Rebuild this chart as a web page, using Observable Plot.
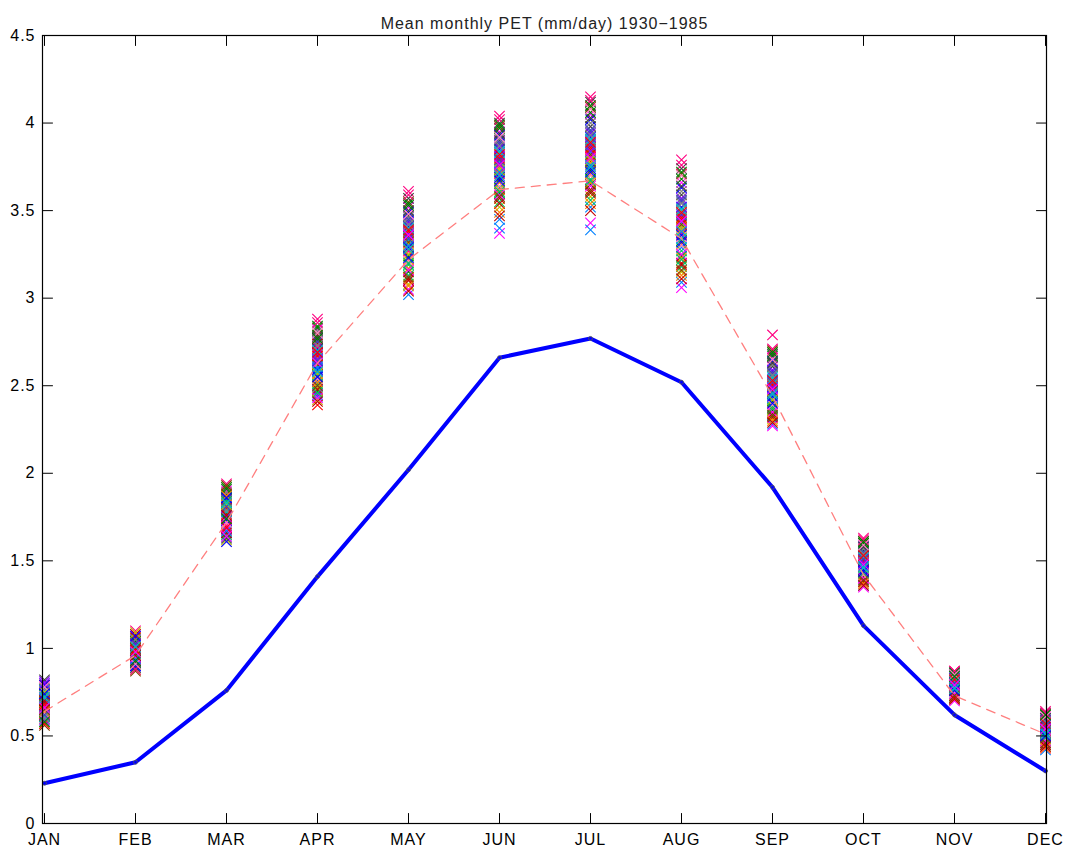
<!DOCTYPE html>
<html>
<head>
<meta charset="utf-8">
<script src="https://cdn.jsdelivr.net/npm/d3@7"></script>
<script src="https://cdn.jsdelivr.net/npm/@observablehq/plot@0.6"></script>
<style>
  html, body { margin: 0; padding: 0; background: #fff; }
</style>
</head>
<body>
<div id="chart"></div>
<script>
const title = "Mean monthly PET (mm/day) 1930\u22121985";
const months = ["JAN","FEB","MAR","APR","MAY","JUN","JUL","AUG","SEP","OCT","NOV","DEC"];
const yTicks = [0, 0.5, 1, 1.5, 2, 2.5, 3, 3.5, 4, 4.5];

// thick blue line
const blueLine = [0.23, 0.35, 0.76, 1.41, 2.02, 2.66, 2.77, 2.52, 1.92, 1.13, 0.62, 0.30];
// light red dashed line
const redLine = [0.64, 0.96, 1.72, 2.63, 3.22, 3.62, 3.67, 3.34, 2.44, 1.42, 0.73, 0.51];

// yearly values per month, 1930-1985 (read from the cross clusters)
const jan = [0.66,0.72,0.61,0.78,0.69,0.58,0.74,0.64,0.81,0.70,0.63,0.67,0.76,0.56,0.71,0.65,0.79,0.62,0.68,0.73,0.60,0.75,0.66,0.82,0.69,0.59,0.71,0.64,0.77,0.67,
             0.70,0.63,0.74,0.68,0.57,0.79,0.66,0.72,0.61,0.75,0.69,0.64,0.80,0.67,0.73,0.60,0.71,0.65,0.78,0.62,0.70,0.68,0.74,0.58,0.66,0.72];
const feb = [0.95,1.02,0.91,1.07,0.98,0.88,1.04,0.94,0.99,1.10,0.92,0.97,1.05,0.87,1.00,0.93,1.08,0.96,0.90,1.03,0.98,0.95,1.01,0.89,1.06,0.94,0.99,0.92,1.03,0.97,
             0.96,1.01,0.93,1.06,0.99,0.90,1.04,0.95,1.00,1.09,0.92,0.98,1.02,0.88,0.97,1.05,0.94,1.00,0.91,1.03,0.96,0.99,1.07,0.93,0.98,1.01];
const mar = [1.74,1.82,1.66,1.90,1.71,1.62,1.86,1.77,1.69,1.94,1.73,1.80,1.64,1.88,1.75,1.68,1.84,1.79,1.61,1.92,1.72,1.78,1.67,1.85,1.76,1.70,1.83,1.65,1.89,1.74,
             1.77,1.71,1.85,1.66,1.80,1.73,1.91,1.68,1.78,1.82,1.63,1.87,1.75,1.70,1.84,1.79,1.67,1.93,1.72,1.81,1.76,1.69,1.86,1.74,1.64,1.83];
const apr = [2.58,2.71,2.47,2.82,2.63,2.42,2.77,2.55,2.68,2.88,2.51,2.66,2.44,2.79,2.60,2.53,2.74,2.39,2.69,2.84,2.57,2.62,2.49,2.76,2.64,2.45,2.72,2.56,2.81,2.61,
             2.62,2.54,2.75,2.48,2.67,2.59,2.83,2.43,2.70,2.57,2.78,2.52,2.65,2.86,2.46,2.73,2.60,2.50,2.80,2.64,2.41,2.69,2.55,2.77,2.63,2.58];
const may = [3.28,3.41,3.15,3.52,3.33,3.08,3.47,3.22,3.37,3.61,3.19,3.30,3.02,3.55,3.26,3.44,3.11,3.35,3.49,3.24,3.05,3.39,3.31,3.57,3.17,3.43,3.27,3.13,3.46,3.34,
             3.32,3.21,3.45,3.10,3.38,3.29,3.54,3.16,3.40,3.25,3.50,3.07,3.36,3.59,3.20,3.42,3.30,3.12,3.48,3.34,3.04,3.39,3.23,3.53,3.36,3.28];
const jun = [3.72,3.85,3.60,3.95,3.78,3.52,3.90,3.66,3.81,4.04,3.63,3.75,3.45,3.98,3.70,3.88,3.57,3.79,3.93,3.68,3.37,3.83,3.74,4.00,3.62,3.86,3.71,3.55,3.91,3.40,
             3.76,3.64,3.89,3.54,3.80,3.69,3.97,3.59,3.84,3.73,3.94,3.49,3.77,4.02,3.61,3.87,3.72,3.58,3.92,3.79,3.47,3.82,3.67,3.99,3.76,3.70];
const jul = [3.78,3.92,3.65,4.05,3.83,3.58,3.98,3.71,3.87,4.15,3.68,3.80,3.52,4.09,3.75,3.95,3.62,3.85,4.02,3.73,3.43,3.90,3.77,4.12,3.66,3.94,3.81,3.56,4.00,3.39,
             3.82,3.70,3.96,3.60,3.86,3.74,4.06,3.64,3.91,3.79,4.03,3.54,3.84,4.13,3.67,3.93,3.76,3.61,4.08,3.88,3.50,3.89,3.72,4.10,3.80,3.75];
const aug = [3.38,3.52,3.24,3.66,3.43,3.15,3.59,3.31,3.47,3.79,3.27,3.40,3.09,3.71,3.35,3.55,3.20,3.45,3.63,3.33,3.06,3.50,3.41,3.74,3.23,3.57,3.37,3.18,3.61,3.29,
             3.42,3.30,3.56,3.19,3.46,3.36,3.68,3.25,3.51,3.39,3.64,3.13,3.44,3.76,3.22,3.54,3.38,3.16,3.70,3.48,3.11,3.49,3.32,3.72,3.44,3.34];
const sep = [2.45,2.56,2.36,2.66,2.49,2.31,2.61,2.42,2.53,2.79,2.38,2.47,2.28,2.70,2.44,2.58,2.34,2.51,2.64,2.41,2.27,2.55,2.46,2.68,2.37,2.59,2.48,2.33,2.62,2.43,
             2.47,2.39,2.57,2.32,2.50,2.44,2.67,2.35,2.54,2.42,2.63,2.30,2.49,2.71,2.37,2.56,2.46,2.33,2.65,2.52,2.29,2.53,2.40,2.69,2.48,2.45];
const oct = [1.47,1.53,1.41,1.59,1.49,1.38,1.56,1.44,1.51,1.63,1.42,1.48,1.36,1.61,1.46,1.54,1.40,1.50,1.58,1.45,1.35,1.55,1.47,1.60,1.43,1.52,1.49,1.39,1.57,1.44,
             1.48,1.42,1.55,1.38,1.50,1.45,1.60,1.40,1.52,1.46,1.58,1.37,1.49,1.62,1.43,1.54,1.47,1.39,1.59,1.51,1.36,1.53,1.44,1.61,1.48,1.46];
const nov = [0.78,0.82,0.74,0.86,0.79,0.72,0.84,0.76,0.81,0.87,0.75,0.79,0.71,0.85,0.77,0.83,0.73,0.80,0.85,0.76,0.70,0.82,0.78,0.86,0.74,0.83,0.79,0.72,0.84,0.77,
             0.79,0.75,0.83,0.72,0.80,0.77,0.86,0.74,0.81,0.78,0.85,0.71,0.79,0.87,0.76,0.82,0.78,0.73,0.85,0.80,0.71,0.82,0.76,0.84,0.79,0.77];
const dec = [0.52,0.57,0.47,0.61,0.53,0.44,0.59,0.50,0.55,0.64,0.48,0.53,0.42,0.62,0.51,0.58,0.46,0.54,0.60,0.49,0.43,0.56,0.52,0.63,0.47,0.58,0.53,0.45,0.60,0.50,
             0.53,0.48,0.59,0.45,0.55,0.51,0.62,0.47,0.57,0.52,0.60,0.43,0.54,0.63,0.49,0.58,0.52,0.46,0.61,0.56,0.44,0.57,0.50,0.62,0.54,0.51];

const palette = ["#ff0000","#0000ff","#008000","#ff00ff","#00bfbf","#bfbf00","#404040","#ff8000",
                 "#8000ff","#ff0080","#00c060","#808080","#0080ff","#804000","#ff80c0","#4040c0","#c00000"];

const yearly = [jan, feb, mar, apr, may, jun, jul, aug, sep, oct, nov, dec];
const scatter = [];
yearly.forEach((vals, m) => vals.forEach((v, i) => scatter.push({month: months[m], pet: v, year: i})));
const blueRows = months.map((m, i) => ({month: m, pet: blueLine[i]}));
const redRows = months.map((m, i) => ({month: m, pet: redLine[i]}));

const tickShape = { draw(context, l) { context.moveTo(0, 0); context.lineTo(0, -l); } };
const tickOpts = {length: 10, anchor: "start", shape: tickShape, stroke: "#000", strokeWidth: 1};

const chart = Plot.plot({
  width: 1069,
  height: 853,
  marginLeft: 42,
  marginRight: 23,
  marginTop: 35,
  marginBottom: 30,
  style: {fontFamily: "'Liberation Sans', Arial, sans-serif", fontSize: "16px", letterSpacing: "1px", background: "#fff", color: "#000"},
  x: {type: "point", domain: months, padding: 0, label: null},
  y: {domain: [0, 4.5], label: null},
  marks: [
    Plot.dot(scatter, {x: "month", y: "pet", symbol: "times", r: 4.8, strokeWidth: 1.1, stroke: d => palette[d.year % palette.length]}),
    Plot.line(redRows, {x: "month", y: "pet", stroke: "#ff7f7f", strokeWidth: 1.3, strokeDasharray: "9,7"}),
    Plot.line(blueRows, {x: "month", y: "pet", stroke: "#0000ff", strokeWidth: 4}),
    Plot.dot(blueRows, {x: "month", y: "pet", r: 2, stroke: "#555", strokeWidth: 0.8, fill: "none"}),
    Plot.frame({stroke: "#000", strokeWidth: 1.2}),
    Plot.vector(months, {x: d => d, frameAnchor: "bottom", rotate: 0, ...tickOpts}),
    Plot.vector(months, {x: d => d, frameAnchor: "top", rotate: 180, ...tickOpts}),
    Plot.vector(yTicks, {y: d => d, frameAnchor: "left", rotate: 90, ...tickOpts}),
    Plot.vector(yTicks, {y: d => d, frameAnchor: "right", rotate: -90, ...tickOpts}),
    Plot.axisX({anchor: "bottom", tickSize: 0, tickPadding: 10, fontSize: 16, label: null}),
    Plot.axisY({anchor: "left", ticks: yTicks, tickSize: 0, tickPadding: 7, fontSize: 16, tickFormat: d => String(d), label: null}),
    Plot.text([title], {frameAnchor: "top", dy: -18, fontSize: 16, fill: "#222"})
  ]
});
document.getElementById("chart").appendChild(chart);
</script>
</body>
</html>
